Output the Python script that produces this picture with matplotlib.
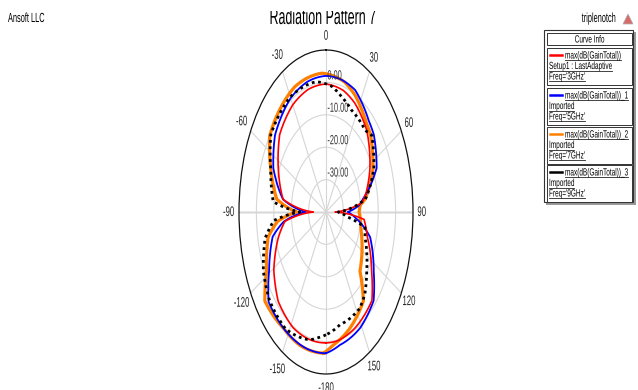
import numpy as np
import matplotlib
matplotlib.use("Agg")
import matplotlib.pyplot as plt
from matplotlib.patheffects import AbstractPathEffect
from matplotlib.transforms import Affine2D, Bbox, TransformedBbox
from matplotlib.patches import Rectangle, Polygon
from matplotlib.lines import Line2D
from matplotlib.text import Text
import matplotlib.transforms as mtransforms

# ---- data: max(dB(GainTotal)) vs theta (deg) ----
theta_3ghz = [-180, -165, -152, -135, -121, -106, -97, -90, -81, -64, -48, -30, -15,
              0, 15, 26, 43, 62, 75, 82, 90, 96, 108, 125, 136, 155, 170]
gain_3ghz = [0.4, 0.5, 0.4, -1.1, -5.0, -11.5, -16.2, -32.7, -15.0, -9.5, -4.2, -1.8, -0.8,
             -0.5, -1.2, -2.5, -5.6, -11.4, -16.0, -19.0, -34.8, -18.0, -15.0, -8.0, -2.0, -0.5, 0.3]

theta_5ghz = [-180, -165, -146, -130, -119, -104, -97, -90, -81, -66, -51, -30, -15,
              0, 12, 24, 41, 49, 65, 79, 84, 90, 96, 107, 124, 135, 151, 169]
gain_5ghz = [3.6, 3.6, 3.4, 3.1, -2.6, -8.4, -15.5, -28.5, -15.0, -6.9, -2.3, 0.6, 1.6,
             2.0, 1.8, 1.2, -2.6, -3.6, -7.9, -18.2, -21.0, -27.5, -23.0, -13.5, -6.9, -1.3, 0.8, 1.8]

theta_7ghz = [-178, -160, -146, -128, -118, -103, -96, -90, -82, -67, -54, -46, -25,
              -3, 15, 25, 40, 47, 64, 80, 84, 90, 94, 105, 119, 133, 142, 159, 174]
gain_7ghz = [3.6, 3.8, 3.4, 4.6, -1.3, -5.9, -12.0, -23.2, -11.4, -5.5, 0.0, 0.8, 2.6,
             2.9, 1.5, -0.3, -4.0, -5.0, -10.0, -17.2, -20.4, -21.0, -20.4, -19.2, -16.3, -13.3, -5.1, -1.6, 1.2]

theta_9ghz = [-180, -172, -167, -157, -147, -130, -117, -103, -95, -90, -84, -67, -53, -30,
              -8, 5, 14, 25, 42, 48, 64, 80, 90, 97, 102, 109, 128, 139, 147, 167]
gain_9ghz = [-2.1, -0.7, 0.5, 1.7, 2.9, 2.4, 0.4, -4.1, -10.0, -25.0, -9.5, -5.5, -0.3, 1.0,
             0.6, -1.1, -3.3, -5.3, -6.2, -4.6, -9.4, -17.0, -33.0, -27.6, -17.1, -16.3, -10.3, -6.1, -4.5, -4.3]

ring_values = [-30, -20, -10, 0]
theta_ticks = [0, 30, 60, 90, 120, 150, 180, -150, -120, -90, -60, -30]
theta_ticklabels = ["0", "30", "60", "90", "120", "150", "-180", "-150", "-120", "-90", "-60", "-30"]

curve_names = ["max(dB(GainTotal))", "max(dB(GainTotal))_1",
               "max(dB(GainTotal))_2", "max(dB(GainTotal))_3"]
curve_sources = ["Setup1 : LastAdaptive", "Imported", "Imported", "Imported"]
curve_freqs = ["Freq='3GHz'", "Freq='5GHz'", "Freq='7GHz'", "Freq='9GHz'"]

W, H = 638, 390
FONT = "Liberation Sans"
SX = 0.56


class Squeeze(AbstractPathEffect):
    """Draw text glyphs compressed horizontally (condensed lettering)."""

    def __init__(self, sx, anchor="center"):
        super().__init__()
        self._sx = sx
        self._anchor = anchor

    def draw_path(self, renderer, gc, tpath, affine, rgbFace=None):
        if len(tpath.vertices) == 0:
            return
        ext = tpath.get_extents()
        if self._anchor == "left":
            x0 = 0.0
        elif self._anchor == "right":
            x0 = ext.x1
        else:
            x0 = 0.5 * (ext.x0 + ext.x1)
        pre = Affine2D().translate(-x0, 0).scale(self._sx, 1).translate(x0, 0)
        renderer.draw_path(gc, tpath, pre + affine, rgbFace)


class CondensedText(Text):
    """Text drawn condensed; its reported extent matches what is drawn."""

    def __init__(self, *args, sx=SX, **kw):
        kw.setdefault("family", FONT)
        super().__init__(*args, **kw)
        self._sx = sx
        self.set_path_effects([Squeeze(sx, self.get_horizontalalignment())])

    def get_window_extent(self, renderer=None, dpi=None):
        bb = super().get_window_extent(renderer, dpi)
        w = bb.width * self._sx
        ha = self.get_horizontalalignment()
        if ha == "left":
            x0 = bb.x0
        elif ha == "right":
            x0 = bb.x1 - w
        else:
            x0 = bb.x0 + 0.5 * (bb.width - w)
        return Bbox.from_bounds(x0, bb.y0, w, bb.height)


def fx(x):
    return x / W


def fy(y):
    return 1 - y / H


fig = plt.figure(figsize=(W / 100, H / 100), dpi=100)
fig.patch.set_facecolor("white")


def ftext(x, y, s, size, ha="left", va="baseline", sx=SX, **kw):
    t = CondensedText(fx(x), fy(y), s, fontsize=size, ha=ha, va=va, sx=sx,
                      transform=fig.transFigure, **kw)
    fig.add_artist(t)
    return t


# ---- polar axes (stretched box -> elliptical pattern) ----
cx, cy, rx, ry = 326, 212, 87, 162
ax = fig.add_axes([fx(cx - rx), fy(cy + ry), 2 * rx / W, 2 * ry / H], projection="polar")
ax.set_aspect("auto")
ax.set_theta_zero_location("N")
ax.set_theta_direction(-1)
ax.set_rlim(-40, 10)
ax.set_facecolor("white")

ax.set_xticks(np.radians(np.arange(0, 360, 30)))
ax.set_xticklabels([])
ax.set_xticks(np.radians(np.arange(0, 360, 5)), minor=True)
ax.set_yticks(ring_values)
ax.set_yticklabels([])
ax.tick_params(axis="x", which="major", direction="in", length=6, width=0.9, colors="#222222")
ax.tick_params(axis="x", which="minor", direction="in", length=4, width=0.8, colors="#222222")
ax.tick_params(axis="y", length=0)
ax.xaxis.grid(True, color="#d6d6d6", lw=0.8)
ax.yaxis.grid(True, color="#d6d6d6", lw=0.8)
ax.spines["polar"].set_color("#111111")
ax.spines["polar"].set_linewidth(0.9)

for ang in (90, -90):
    ax.plot([np.radians(ang)] * 2, [-40, 10], color="#a8a8a8", lw=1.0, zorder=1)

off = mtransforms.offset_copy(ax.transData, fig=fig, x=1.0, y=0.0, units="points")
for rv in ring_values:
    t = CondensedText(0, rv, f"{rv:.2f}", transform=off, ha="left", va="bottom",
                      fontsize=9.5, color="#333333", zorder=6, clip_on=False)
    ax.add_artist(t)

for ang, lab in zip(theta_ticks, theta_ticklabels):
    if lab == "0":
        rpos = 14.4
    elif lab == "-180":
        rpos = 14.3
    elif lab.startswith("-"):
        rpos = 16
    else:
        rpos = 15
    t = CondensedText(np.radians(ang), rpos, lab, transform=ax.transData, ha="center",
                      va="center", fontsize=10, color="#222222", clip_on=False)
    ax.add_artist(t)


def pattern(th, g, **kw):
    t = np.radians(np.append(th, th[0] + 360))
    r = np.append(g, g[0])
    line, = ax.plot(t, r, **kw)
    # let the polar transform follow theta/r between samples instead of chords
    line.get_path()._interpolation_steps = 16
    return line


pattern(theta_7ghz, gain_7ghz, color="#ff8000", lw=2.3, zorder=3)
pattern(theta_5ghz, gain_5ghz, color="#0000ff", lw=1.3, zorder=4)
pattern(theta_3ghz, gain_3ghz, color="#ff0000", lw=1.2, zorder=5)
pattern(theta_9ghz, gain_9ghz, color="black", lw=2.0, linestyle=(0, (1, 1.3)),
        dash_capstyle="butt", zorder=6)

# ---- header texts ----
ftext(8, 22, "Ansoft LLC", 9.5)
title = ftext(323, 24, "Radiation Pattern 7", 16, ha="center")
title.set_clip_box(TransformedBbox(Bbox([[fx(200), fy(60)], [fx(450), fy(10.5)]]), fig.transFigure))
title.set_clip_on(True)
ftext(599, 22, "triplenotch", 9.5, ha="center")
fig.add_artist(Polygon([[fx(623), fy(24)], [fx(633), fy(24)], [fx(628), fy(14)]],
                       closed=True, transform=fig.transFigure, facecolor="#d86a6a",
                       edgecolor="#b0b0b0", lw=0.5))

# ---- curve info panel ----
def frect(x, y, w, h, **kw):
    fig.add_artist(Rectangle((fx(x), fy(y + h)), w / W, h / H, transform=fig.transFigure, **kw))


frect(546, 32, 90, 173, facecolor="#9a9a9a", edgecolor="none")
frect(544, 30, 89, 172, facecolor="white", edgecolor="#333333", lw=0.8)
frect(547, 33, 85, 12, facecolor="white", edgecolor="#333333", lw=0.7)
ftext(589.5, 42.5, "Curve Info", 7.5, ha="center", sx=0.62)

colors = ["#ff0000", "#0000ff", "#ff8000", "black"]
box_tops = [48, 88, 127, 165]
legend_texts = []
for top, name, src, freq, col in zip(box_tops, curve_names, curve_sources, curve_freqs, colors):
    frect(547, top, 85, 37, facecolor="white", edgecolor="#333333", lw=0.7)
    fig.add_artist(Line2D([fx(550), fx(562)], [fy(top + 7), fy(top + 7)],
                          transform=fig.transFigure, color=col, lw=1.8))
    legend_texts.append(ftext(565, top + 10.5, name, 7.5, sx=0.62))
    legend_texts.append(ftext(549, top + 21, src, 7.5, sx=0.62))
    legend_texts.append(ftext(549, top + 31.5, freq, 7.5, sx=0.62))

fig.canvas.draw()
renderer = fig.canvas.get_renderer()
for txt in legend_texts:
    bb = txt.get_window_extent(renderer)
    ybase = txt.get_position()[1] * H - 1.5
    fig.add_artist(Line2D([bb.x0 / W, bb.x1 / W], [ybase / H, ybase / H],
                          transform=fig.transFigure, color="#222222", lw=0.6))

fig.savefig("out.png", dpi=100, facecolor="white")
